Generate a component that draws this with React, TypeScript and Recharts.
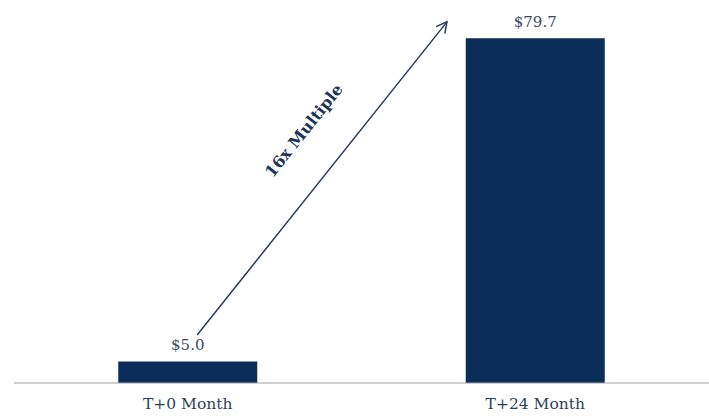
import React from 'react';
import { BarChart, Bar, XAxis, YAxis, LabelList, ReferenceLine } from 'recharts';

const categories = ['T+0 Month', 'T+24 Month'];
const values = [5.0, 79.7];
const valueLabels = ['$5.0', '$79.7'];
const multipleText = `${Math.round(values[1] / values[0])}x Multiple`;
// arrow annotation in data space (hidden numeric x axis 0..1 across the plot, y in value units)
const arrowStart = { x: 0.2635, y: 11.1 };
const arrowEnd = { x: 0.623, y: 83.5 };

const data = categories.map((c, i) => ({ name: c, value: values[i], label: valueLabels[i] }));

const NAVY = '#0a2e57';
const FONT = '"DejaVu Serif", Georgia, serif';

const ArrowShape = (props: any) => {
  const { x1, y1, x2, y2 } = props;
  if ([x1, y1, x2, y2].some((v) => typeof v !== 'number' || isNaN(v))) return null;
  const dx = x2 - x1;
  const dy = y2 - y1;
  const len = Math.sqrt(dx * dx + dy * dy);
  const ux = dx / len;
  const uy = dy / len;
  const head = 12;
  const a = (28 * Math.PI) / 180;
  const rot = (ang: number) => ({
    x: x2 - head * (ux * Math.cos(ang) - uy * Math.sin(ang)),
    y: y2 - head * (ux * Math.sin(ang) + uy * Math.cos(ang)),
  });
  const p1 = rot(a);
  const p2 = rot(-a);
  const nx = uy;
  const ny = -ux;
  const cx = x1 + ux * len * 0.565 + nx * 44;
  const cy = y1 + uy * len * 0.565 + ny * 44;
  const angle = (Math.atan2(dy, dx) * 180) / Math.PI;
  return (
    <g>
      <line x1={x1} y1={y1} x2={x2} y2={y2} stroke="#2b3d5c" strokeWidth={1.5} />
      <polyline
        points={`${p1.x},${p1.y} ${x2},${y2} ${p2.x},${p2.y}`}
        fill="none"
        stroke="#2b3d5c"
        strokeWidth={1.5}
      />
      <text
        x={cx}
        y={cy}
        transform={`rotate(${angle}, ${cx}, ${cy})`}
        textAnchor="middle"
        dominantBaseline="central"
        fontFamily={FONT}
        fontWeight="bold"
        fontSize={16}
        fill="#1e3456"
      >
        {multipleText}
      </text>
    </g>
  );
};

export default function App() {
  return (
    <div style={{ position: 'absolute', left: 0, top: 0, background: '#fff' }}>
      <BarChart
        width={709}
        height={417}
        data={data}
        margin={{ top: 37, right: 0, bottom: 4, left: 14 }}
        barCategoryGap="30%"
      >
        <XAxis
          dataKey="name"
          axisLine={{ stroke: '#9aa0a8', strokeWidth: 1 }}
          tickLine={false}
          tickSize={0}
          tickMargin={15}
          height={30}
          tick={{ fill: '#2f3f5a', fontSize: 15.5, fontFamily: FONT }}
        />
        <XAxis xAxisId="num" type="number" domain={[0, 1]} allowDataOverflow hide />
        <YAxis domain={[0, 80]} allowDataOverflow hide />
        <Bar dataKey="value" fill={NAVY} isAnimationActive={false}>
          <LabelList
            dataKey="label"
            position="top"
            offset={11}
            style={{ fill: '#3a4a66', fontSize: 15, fontFamily: FONT }}
          />
        </Bar>
        <ReferenceLine
          xAxisId="num"
          segment={[arrowStart, arrowEnd]}
          ifOverflow="visible"
          shape={ArrowShape}
        />
      </BarChart>
    </div>
  );
}
